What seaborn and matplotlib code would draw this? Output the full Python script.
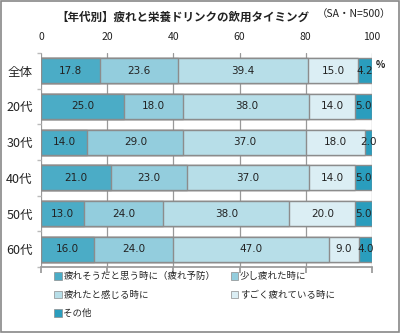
import matplotlib
matplotlib.use("Agg")
import matplotlib.pyplot as plt
import seaborn as sns
import pandas as pd
import numpy as np
from matplotlib.patches import Patch, Rectangle

categories = ["全体", "20代", "30代", "40代", "50代", "60代"]
series_names = ["疲れそうだと思う時に（疲れ予防）", "少し疲れた時に", "疲れたと感じる時に",
                "すごく疲れている時に", "その他"]
s1 = [17.8, 25.0, 14.0, 21.0, 13.0, 16.0]
s2 = [23.6, 18.0, 29.0, 23.0, 24.0, 24.0]
s3 = [39.4, 38.0, 37.0, 37.0, 38.0, 47.0]
s4 = [15.0, 14.0, 18.0, 14.0, 20.0, 9.0]
s5 = [4.2, 5.0, 2.0, 5.0, 5.0, 4.0]
xticks = [0, 20, 40, 60, 80, 100]
colors = ["#4bacc6", "#93cddd", "#b7dee8", "#dbeef4", "#2a9dbd"]

sns.set_theme(style="white")
plt.rcParams["font.family"] = ["Noto Sans CJK JP", "DejaVu Sans"]

series = [s1, s2, s3, s4, s5]
vals = np.array(series)
cum = np.cumsum(vals, axis=0)

fig = plt.figure(figsize=(4.0, 3.33), dpi=100)
ax = fig.add_axes([0.1025, 0.198, 0.8275, 0.643])

for i in range(len(series) - 1, -1, -1):
    df = pd.DataFrame({"cat": categories, "v": cum[i]})
    sns.barplot(data=df, x="v", y="cat", orient="h", color=colors[i], ax=ax,
                width=0.7, edgecolor="#8c8c8c", linewidth=1.0, saturation=1)

for i in range(len(series)):
    for j, c in enumerate(categories):
        v = vals[i][j]
        center = cum[i][j] - v / 2
        ax.text(center, j, f"{v:.1f}", ha="center", va="center", fontsize=7.5,
                color="#222222", family=["DejaVu Sans"])

ax.set_xlim(0, 100)
ax.set_ylim(5.5, -0.5)
ax.set_xlabel("")
ax.set_ylabel("")
ax.set_xticks(xticks)
ax.xaxis.set_ticks_position("bottom")
ax.tick_params(axis="x", which="both", labelbottom=False, labeltop=True, top=False,
               bottom=True, length=4, color="#999999", labelsize=7.5, labelcolor="#222222", pad=4)
ax.tick_params(axis="y", length=0, labelsize=9, labelcolor="#222222", pad=6)
ax.set_yticks(np.arange(-0.5, 5.6, 1), minor=True)
ax.tick_params(axis="y", which="minor", left=True, length=3, color="#bbbbbb")
ax.grid(axis="x", color="#999999", linewidth=0.9)
ax.set_axisbelow(True)
for s in ["top", "right"]:
    ax.spines[s].set_visible(False)
ax.spines["left"].set_visible(False)
ax.spines["bottom"].set_color("#999999")

fig.text(0.458, 0.948, "【年代別】疲れと栄養ドリンクの飲用タイミング", ha="center", va="center",
         fontsize=8.3, color="#222222", fontweight="bold")
fig.text(0.885, 0.958, "（SA・N=500）", ha="center", va="center", fontsize=7.5, color="#222222")
fig.text(0.952, 0.805, "%", ha="center", va="center", fontsize=7, color="#222222", fontweight="bold")

handles = [Patch(facecolor=colors[i], edgecolor="#8c8c8c", linewidth=0.5, label=series_names[i])
           for i in range(5)]
order = [0, 2, 4, 1, 3]
fig.legend([handles[i] for i in order], [series_names[i] for i in order], ncol=2,
           loc="upper left", bbox_to_anchor=(0.135, 0.183), frameon=False, fontsize=6.8,
           handlelength=0.8, handleheight=0.8, handletextpad=0.2, columnspacing=1.6,
           labelspacing=1.0, borderaxespad=0, borderpad=0)

fig.patches.append(Rectangle((0.002, 0.003), 0.995, 0.994, transform=fig.transFigure,
                             fill=False, edgecolor="#888888", linewidth=1.2))

fig.savefig("out.png", dpi=100)
